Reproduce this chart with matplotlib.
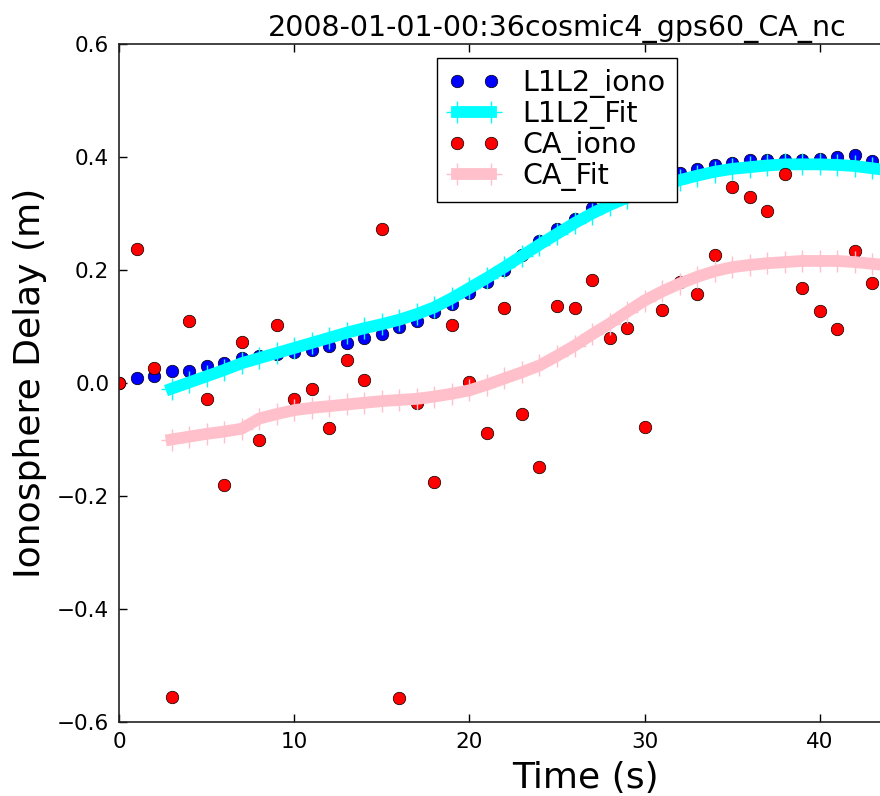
import numpy as np
import matplotlib
matplotlib.use('Agg')
from matplotlib import pyplot as plt


####################
# Data (read off) #
####################

time_obs = list(range(0, 44))

l1l2_iono = [0.000, 0.008, 0.012, 0.021, 0.022, 0.030, 0.035, 0.044, 0.047, 0.052,
             0.055, 0.059, 0.065, 0.071, 0.080, 0.087, 0.100, 0.109, 0.125, 0.140,
             0.160, 0.178, 0.200, 0.226, 0.251, 0.272, 0.291, 0.309, 0.323, 0.336,
             0.348, 0.362, 0.372, 0.379, 0.385, 0.389, 0.394, 0.395, 0.395, 0.395,
             0.397, 0.400, 0.403, 0.393]

ca_iono = [0.000, 0.238, 0.027, -0.555, 0.110, -0.028, -0.180, 0.073, -0.100, 0.102,
           -0.028, -0.010, -0.080, 0.040, 0.005, 0.273, -0.557, -0.036, -0.175, 0.102,
           0.002, -0.088, 0.133, -0.054, -0.148, 0.137, 0.133, 0.183, 0.080, 0.098,
           -0.078, 0.130, 0.179, 0.157, 0.226, 0.347, 0.330, 0.305, 0.370, 0.168,
           0.127, 0.095, 0.233, 0.177]

time_fit = list(range(3, 45))

l1l2_fit = [-0.010, 0.001, 0.012, 0.023, 0.035, 0.044, 0.053, 0.062, 0.071, 0.080,
            0.089, 0.097, 0.104, 0.112, 0.122, 0.134, 0.150, 0.168, 0.186, 0.205,
            0.225, 0.245, 0.264, 0.283, 0.300, 0.315, 0.328, 0.340, 0.350, 0.359,
            0.367, 0.374, 0.379, 0.382, 0.385, 0.387, 0.387, 0.387, 0.386, 0.384,
            0.380, 0.376]

ca_fit = [-0.100, -0.095, -0.090, -0.086, -0.081, -0.063, -0.055, -0.048, -0.044, -0.041,
          -0.038, -0.035, -0.032, -0.030, -0.028, -0.024, -0.019, -0.013, -0.003, 0.008,
          0.019, 0.031, 0.048, 0.066, 0.086, 0.105, 0.126, 0.146, 0.162, 0.176,
          0.188, 0.198, 0.205, 0.209, 0.212, 0.214, 0.216, 0.216, 0.216, 0.214,
          0.211, 0.208]

title = '2008-01-01-00:36cosmic4_gps60_CA_nc'


########
# Plot #
########

plt.rcParams['font.family'] = 'DejaVu Sans'

fig = plt.figure(figsize=(8.8, 7.96), dpi=100)
fig.patch.set_facecolor('white')
# axes runs past the right edge of the figure, like the cropped original
ax = fig.add_axes([119 / 880, 74 / 796, 876 / 880, 678 / 796])

ax.plot(time_obs, l1l2_iono, 'o', color='b', markersize=9, markeredgecolor='k',
        markeredgewidth=0.5, label='L1L2_iono')
ax.plot(time_fit, l1l2_fit, '-+', color='cyan', linewidth=8.5, markersize=16,
        markeredgewidth=1, label='L1L2_Fit')
ax.plot(time_obs, ca_iono, 'o', color='r', markersize=9, markeredgecolor='k',
        markeredgewidth=0.5, label='CA_iono')
ax.plot(time_fit, ca_fit, '-+', color='pink', linewidth=8.5, markersize=16,
        markeredgewidth=1, label='CA_Fit')

ax.set_xlim(0, 50)
ax.set_ylim(-0.6, 0.6)
ax.set_xticks(range(0, 41, 10))
ax.set_yticks(np.arange(-0.6, 0.61, 0.2))
ax.tick_params(direction='in', length=6, width=1, top=True, right=True,
               labelsize=15.5, pad=7)
for s in ax.spines.values():
    s.set_linewidth(1.2)
    s.set_color('#222222')

ax.set_title(title, fontsize=20.5, pad=6)
ax.set_xlabel('Time (s)', fontsize=26)
ax.xaxis.set_label_coords(0.533, -0.058)
ax.set_ylabel('Ionosphere Delay (m)', fontsize=26, labelpad=7)

leg = ax.legend(loc='upper center', bbox_to_anchor=(0.5, 0.98), numpoints=2,
                fontsize=20.5, fancybox=False, framealpha=1, edgecolor='k',
                handlelength=1.8, handletextpad=0.8, borderpad=0.4,
                labelspacing=0.07, borderaxespad=0.0)
leg.get_frame().set_linewidth(1)

plt.savefig('out.png', dpi=100, facecolor='white')
